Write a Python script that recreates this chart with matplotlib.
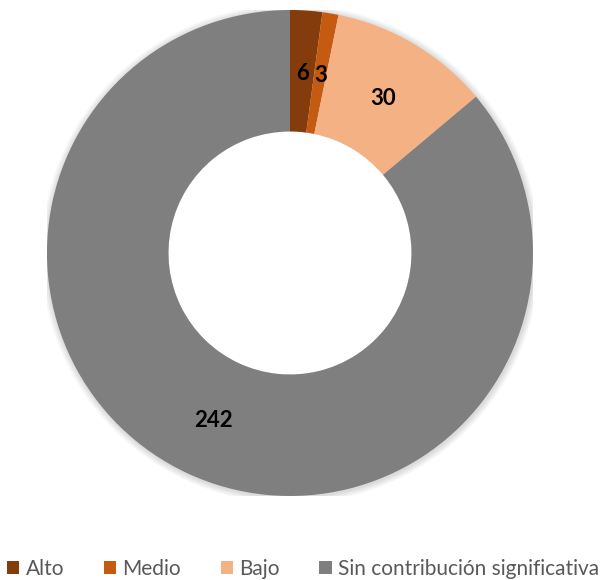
import numpy as np
import matplotlib.pyplot as plt
from matplotlib.patches import Circle

categorias = ["Alto", "Medio", "Bajo", "Sin contribución significativa"]
valores = [6, 3, 30, 242]
colores = ["#843C0C", "#C55A11", "#F4B183", "#7F7F7F"]

plt.rcParams['font.family'] = ['Lato', 'DejaVu Sans']

fig = plt.figure(figsize=(6, 5.8), dpi=100)
ax = fig.add_axes([0.0783, 0.1448, 0.81, 0.838])

# sombra suave alrededor del anillo
for k in range(6, 0, -1):
    ax.add_patch(Circle((0.003, -0.004), 1.0 + k * 0.0045, color="black",
                        alpha=0.025, linewidth=0, zorder=0))

wedges, textos = ax.pie(
    valores, colors=colores, startangle=90, counterclock=False,
    radius=1.0, wedgeprops=dict(width=0.5, linewidth=0),
)
ax.add_patch(Circle((0, 0), 0.5, color="white", linewidth=0, zorder=0.5))

# etiquetas de datos en el centro del anillo
total = sum(valores)
acum = 0
for v in valores:
    medio = acum + v / 2
    ang = np.deg2rad(90 - medio / total * 360)
    x, y = 0.75 * np.cos(ang), 0.75 * np.sin(ang) - 0.01
    ax.text(x, y, str(v), ha="center", va="center", fontsize=16,
            fontweight="bold", color="black")
    acum += v

ax.set_xlim(-1, 1)
ax.set_ylim(-1, 1)
ax.set_aspect("equal")
ax.axis("off")

leg = fig.legend(wedges, categorias, loc="lower center", ncol=4,
                 bbox_to_anchor=(0.505, -0.03), frameon=False, fontsize=15,
                 handlelength=0.6, handleheight=0.6, handletextpad=0.3,
                 columnspacing=1.9, labelcolor="#595959")

fig.savefig("out.png", dpi=100)
